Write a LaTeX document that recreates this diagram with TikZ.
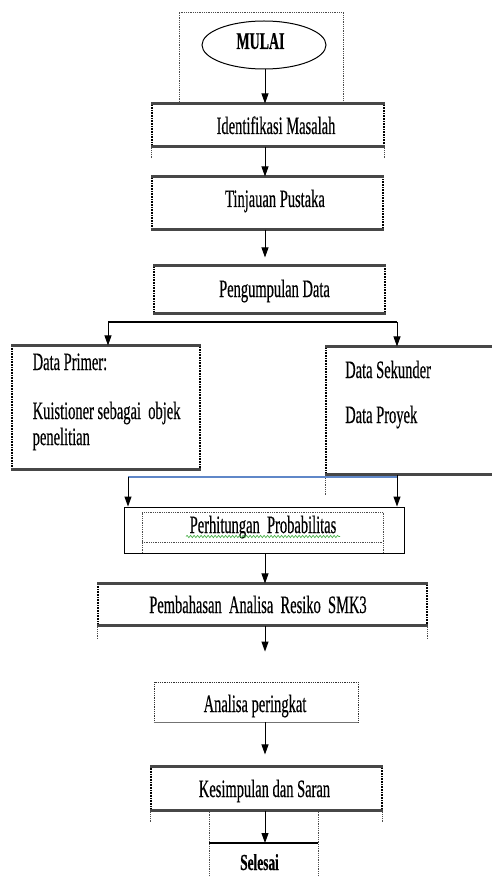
\documentclass[tikz,border=0pt]{standalone}
\usepackage{fontspec}
\newfontfamily\tnr[FakeStretch=0.58,FakeBold=0.4]{Liberation Serif}
\usetikzlibrary{arrows.meta,decorations.pathmorphing,shapes.geometric}
\definecolor{linkblue}{RGB}{95,135,200}
\definecolor{spellgreen}{RGB}{60,170,60}
\begin{document}
\begin{tikzpicture}[x=1pt,y=-1pt,
  txt/.style={font=\tnr\fontsize{25}{28}\selectfont, inner sep=0, anchor=base},
  txtl/.style={txt, anchor=base west},
  boxn/.style={draw=black, line width=1.1pt, dash pattern=on 1pt off 0.6pt, inner sep=0, rectangle},
  lightbox/.style={draw=black!80, line width=0.9pt, dash pattern=on 1pt off 0.8pt, inner sep=0, rectangle},
  solidbox/.style={draw=black, line width=0.9pt, inner sep=0, rectangle},
  thk/.style={draw=black!72, line width=2.2pt},
  thkl/.style={draw=black!55, line width=1.6pt},
  frm/.style={draw=black!70, line width=0.8pt, dash pattern=on 0.9pt off 0.9pt},
  arr/.style={draw=black, line width=0.9pt, -{Triangle[length=10pt,width=7pt]}},
  ln/.style={draw=black, line width=1.3pt},
  blueln/.style={draw=linkblue, line width=1.3pt},
  squiggle/.style={draw=spellgreen, line width=0.6pt, decorate, decoration={snake, amplitude=1.2pt, segment length=3.5pt}}
]
\useasboundingbox (0,0) rectangle (491,877);
\coordinate (ax) at (265,0);

% top dotted frame
\draw[frm] (179,104) -- (179,12) -- (343,12) -- (343,104);
\node[draw=black, line width=1pt, ellipse, minimum width=124pt, minimum height=48pt, inner sep=0] (mulai) at (264,45) {};
\node[txt, font=\tnr\bfseries\fontsize{24}{28}\selectfont] (tmulai) at (260.5,49) {MULAI};

% boxes
\node[boxn, minimum width=232pt, minimum height=42pt] (ident) at (268,125) {};
\node[boxn, minimum width=231pt, minimum height=52pt] (tinjau) at (267.5,203) {};
\node[boxn, minimum width=231pt, minimum height=47pt] (kumpul) at (269.5,289.5) {};
\node[boxn, minimum width=188pt, minimum height=123pt] (primer) at (106,407.5) {};
\node[boxn, minimum width=171pt, minimum height=127pt] (sekunder) at (411.5,410.5) {};
\node[solidbox, minimum width=280pt, minimum height=46pt] (hitung) at (264,530) {};
\node[boxn, minimum width=329pt, minimum height=41pt] (bahas) at (262.5,604.5) {};
\node[lightbox, minimum width=204pt, minimum height=40pt] (analisa) at (256,702) {};
\node[boxn, minimum width=231pt, minimum height=43pt] (simpul) at (266.5,788.5) {};

\foreach \n in {ident,tinjau,kumpul,primer,sekunder,bahas,simpul}
  \draw[thk] (\n.north west) -- (\n.north east) (\n.south west) -- (\n.south east);
\draw[thkl] (analisa.south west) -- (analisa.south east);

% frame remnants
\draw[frm] (ident.south west) -- ++(0,12);
\draw[frm] (ident.south east) -- ++(0,12);
\draw[frm] (sekunder.south west) -- ++(0,21);
\draw[frm] (142,553) -- (142,512) -- (383,512) -- (383,553);
\draw[frm] (142,542) -- (383,542);
\draw[frm] (bahas.south west) -- ++(0,13);
\draw[frm] (bahas.south east) -- ++(0,13);
\draw[frm] (simpul.south west) -- ++(0,11);
\draw[frm] (simpul.south east) -- ++(0,11);
\draw[frm] (209,810) -- (209,877);
\draw[frm] (318,810) -- (318,877);

% texts
\node[txt] (tident) at (276,134) {Identifikasi Masalah};
\node[txt] (ttinjau) at (275,207) {Tinjauan Pustaka};
\node[txt] (tkumpul) at (274.5,297) {Pengumpulan Data};
\node[txtl] (tprim1) at (32.5,370) {Data Primer:};
\node[txtl] (tprim2) at (32.5,419) {Kuistioner sebagai\ \ objek};
\node[txtl] (tprim3) at (32.5,445) {penelitian};
\node[txtl] (tsek1) at (345,378) {Data Sekunder};
\node[txtl] (tsek2) at (345,423) {Data Proyek};
\node[txt] (thitung) at (263,533) {Perhitungan\ \ Probabilitas};
\draw[squiggle] (186,536.5) -- (340,536.5);
\node[txt] (tbahas) at (258,613) {Pembahasan\ \ Analisa\ \ Resiko\ \ SMK3};
\node[txt] (tanalisa) at (255,712) {Analisa peringkat};
\node[txt] (tsimpul) at (264.5,797) {Kesimpulan dan Saran};
\node[txt, font=\tnr\bfseries\fontsize{23}{28}\selectfont] (selesai) at (259.5,870) {Selesai};

% connectors
\coordinate (bl) at (108,322);
\coordinate (br) at (397,322);
\coordinate (ml) at (128,477);
\coordinate (mr) at (397,477);
\coordinate (sl) at (209,843);
\coordinate (sr) at (318,843);
\coordinate (sc) at (265,843);

\draw[arr] (mulai.south -| ax) -- (ident.north -| ax);
\draw[arr] (ident.south -| ax) -- (tinjau.north -| ax);
\draw[arr, shorten >=8pt] (tinjau.south -| ax) -- (kumpul.north -| ax);
\draw[ln] (bl) -- (br);
\draw[arr] (bl) -- (primer.north -| bl);
\draw[arr] (br) -- (sekunder.north -| br);
\draw[blueln] (ml) -- (mr);
\draw[arr] (ml) -- (hitung.north -| ml);
\draw[arr] (sekunder.south -| mr) -- (hitung.north -| mr);
\draw[arr] (hitung.south -| ax) -- (bahas.north -| ax);
\draw[arr, shorten >=30pt] (bahas.south -| ax) -- (analisa.north -| ax);
\draw[arr, shorten >=12pt] (analisa.south -| ax) -- (simpul.north -| ax);
\draw[ln] (sl) -- (sr);
\draw[arr] (simpul.south -| ax) -- (sc);
\end{tikzpicture}
\end{document}
